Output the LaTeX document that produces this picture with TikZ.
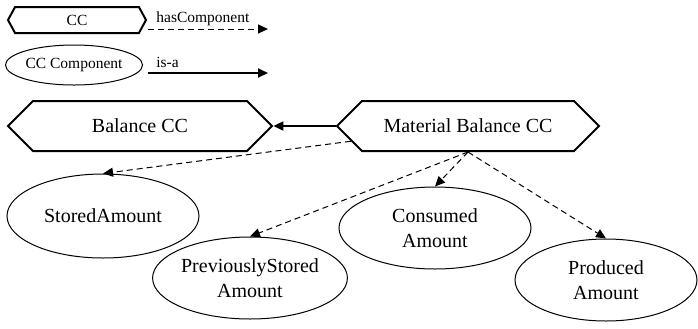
\documentclass[tikz,border=0pt]{standalone}
\usepackage{fontspec}
\setmainfont{Liberation Serif}
\usepackage{tikz}
\usetikzlibrary{shapes.symbols,shapes.geometric,arrows.meta}

\tikzset{%
  hexa/.style={signal, signal to=west and east, draw, line width=1pt, inner sep=0pt, font=\fontsize{10}{12}\selectfont},%
  comp/.style={ellipse, draw, line width=0.5pt, inner sep=0pt, align=center, font=\fontsize{10}{12.5}\selectfont},%
  hasc/.style={dash pattern=on 3pt off 2pt, line width=0.5pt, -{Triangle[length=5pt,width=4.5pt]}},%
  isa/.style={line width=1pt, -{Triangle[length=5pt,width=4.5pt]}},%
  small/.style={font=\fontsize{7.75}{9}\selectfont, inner sep=0pt, anchor=south west}%
}

\begin{document}
\begin{tikzpicture}[x=0.5pt,y=-0.5pt]%
  \useasboundingbox (0,0) rectangle (698,328);%
  % key
  \node [hexa, signal pointer angle=123, minimum width=69pt, minimum height=13pt, font=\fontsize{7.75}{9}\selectfont] (cc) at (77,20) {CC};%
  \node [comp, minimum width=68pt, minimum height=20pt, font=\fontsize{7.75}{9}\selectfont] (ccc) at (74,65) {CC Component};%
  \coordinate (h1) at (148,29);%
  \coordinate (h2) at (268,29);%
  \coordinate (i1) at (148,73);%
  \coordinate (i2) at (268,73);%
  \draw [hasc] (h1) to (h2);%
  \draw [isa] (i1) to (i2);%
  \node [small] (hl) at (156,26) {hasComponent};%
  \node [small] (il) at (156,68) {is-a};%
  % the two CCs
  \node [hexa, signal pointer angle=90, minimum width=132pt, minimum height=25pt] (bal) at (140,126) {Balance CC};%
  \node [hexa, signal pointer angle=90, minimum width=131pt, minimum height=25pt] (mat) at (468,126) {Material Balance CC};%
  % components
  \node [comp, minimum width=96pt, minimum height=42pt] (stored) at (103,216) {StoredAmount};%
  \node [comp, minimum width=94pt, minimum height=41pt] (prev) at (250,278) {PreviouslyStored\\Amount};%
  \node [comp, minimum width=96pt, minimum height=41pt] (cons) at (435,228) {Consumed\\Amount};%
  \node [comp, minimum width=91pt, minimum height=41pt] (prod) at (606,280) {Produced\\Amount};%
  \draw [isa] (mat.west) to (bal.east);%
  \draw [hasc] (mat) to (stored.north);%
  \draw [hasc] (mat.south) to (prev.north);%
  \draw [hasc] (mat.south) to (cons.north);%
  \draw [hasc] (mat.south) to (prod.north);%
\end{tikzpicture}
\end{document}
